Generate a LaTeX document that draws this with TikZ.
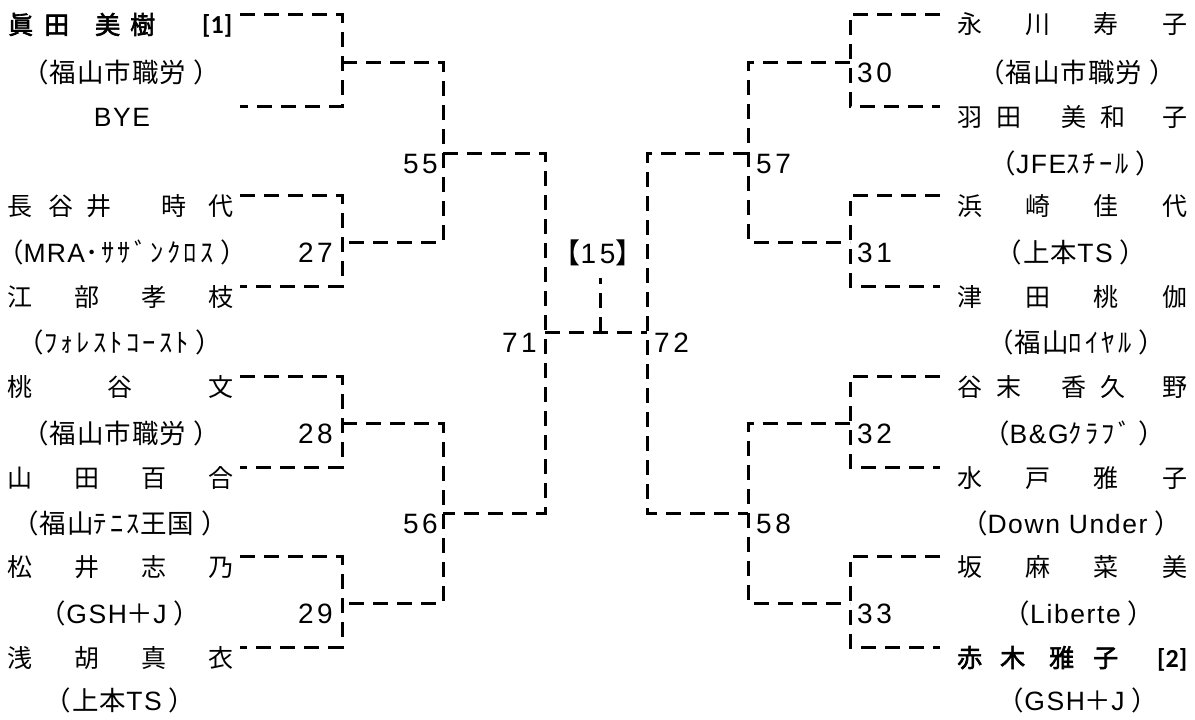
\documentclass[tikz,border=0pt]{standalone}
\usepackage{fontspec}
\setmainfont{Liberation Sans}[LetterSpace=6]
\newfontfamily\jp[AutoFakeBold=2.5]{Noto Sans CJK JP}
\newfontfamily\jpa{Noto Sans CJK JP}[LetterSpace=4]
\newfontfamily\jph{Noto Sans CJK JP}[LetterSpace=12]
\newfontfamily\brk{Carlito}
\newcommand\J[1]{{\jpa #1}}
\newcommand\HK[1]{{\jph #1}}
\newcommand\num[2]{#1\kern3.5pt#2}
\tikzset{
  br/.style={line width=3pt, dash pattern=on 15pt off 9pt},
  nmL/.style={inner sep=0pt, anchor=base west, font=\fontsize{25}{30}\selectfont\jp},
  aff/.style={inner sep=0pt, anchor=base, font=\fontsize{26.5}{30}\selectfont},
  lblL/.style={inner sep=0pt, anchor=base east, font=\fontsize{28}{30}\selectfont\addfontfeature{LetterSpace=0}},
  lblR/.style={inner sep=0pt, anchor=base west, font=\fontsize{28}{30}\selectfont\addfontfeature{LetterSpace=0}},
}
\begin{document}
\begin{tikzpicture}[x=1pt,y=-1pt]
\useasboundingbox (0,0) rectangle (1195,720);
% ---------- brackets: first round ----------
\foreach \t/\b in {14/106, 195/286, 376/467, 556/647} {
  \draw[br] (240,\t) -- (342,\t) -- (342,\b) -- (240,\b);
  \draw[br] (940,\t) -- (850,\t) -- (850,\b) -- (940,\b);
}
% ---------- second round ----------
\draw[br] (342,62) -- (443,62) -- (443,242) -- (342,242);
\draw[br] (342,423) -- (443,423) -- (443,603) -- (342,603);
\draw[br] (850,62) -- (748,62) -- (748,242) -- (850,242);
\draw[br] (850,423) -- (748,423) -- (748,603) -- (850,603);
% ---------- semifinals ----------
\draw[br] (443,153) -- (545,153) -- (545,513) -- (443,513);
\draw[br] (748,153) -- (647,153) -- (647,513) -- (748,513);
% ---------- final ----------
\draw[br] (545,332) -- (647,332);
\coordinate (fin) at (600,332);
\coordinate (finTop) at (600,278);
\draw[br] (fin) -- (finTop);

% ---------- left names ----------
\node[nmL] (l0) at (8,34) {\hbox to 224pt{\bfseries 眞\hspace{11pt}田\hspace{26pt}美\hspace{10pt}樹\hfill{\brk\fontsize{26}{30}\selectfont[1]}}};
\node[aff] (l1) at (121,82) {\J{（福山市職労 ）}};
\node[aff] (l2) at (122,126) {BYE};
\node[nmL] (l4) at (7,215) {\hbox to 226pt{長\hspace{16pt}谷\hspace{13pt}井\hfill 時\hspace{22pt}代}};
\node[aff] (l5) at (122,262) {\J{（}{\addfontfeature{LetterSpace=5}MRA}\HK{･ｻｻﾞﾝｸﾛｽ}\J{ ）}};
\node[nmL] (l6) at (7,306) {\hbox to 226pt{江\hfill 部\hfill 孝\hfill 枝}};
\node[aff] (l7) at (120,352) {\J{（}\HK{ﾌｫﾚｽﾄｺｰｽﾄ}\J{ ）}};
\node[nmL] (l8) at (7,396) {\hbox to 226pt{桃\hfill 谷\hfill 文}};
\node[aff] (l9) at (121,443) {\J{（福山市職労 ）}};
\node[nmL] (l10) at (7,487) {\hbox to 226pt{山\hfill 田\hfill 百\hfill 合}};
\node[aff] (l11) at (120,533) {\J{（福山}\HK{ﾃﾆｽ}\J{王国 ）}};
\node[nmL] (l12) at (7,576) {\hbox to 226pt{松\hfill 井\hfill 志\hfill 乃}};
\node[aff] (l13) at (120,623) {\J{（}GSH\J{＋}J\J{ ）}};
\node[nmL] (l14) at (7,667) {\hbox to 226pt{浅\hfill 胡\hfill 真\hfill 衣}};
\node[aff] (l15) at (120,710) {\J{（上本}TS\J{ ）}};

% ---------- right names ----------
\node[nmL] (r0) at (957,34) {\hbox to 230pt{永\hfill 川\hfill 寿\hfill 子}};
\node[aff] (r1) at (1077,82) {\J{（福山市職労 ）}};
\node[nmL] (r2) at (957,126) {\hbox to 230pt{羽\hspace{14pt}田\hspace{40pt}美\hspace{14pt}和\hfill 子}};
\node[aff] (r3) at (1076,173) {\J{（}JFE\HK{ｽﾁｰﾙ}\J{ ）}};
\node[nmL] (r4) at (957,215) {\hbox to 230pt{浜\hfill 崎\hfill 佳\hfill 代}};
\node[aff] (r5) at (1071,262) {\J{（上本}TS\J{ ）}};
\node[nmL] (r6) at (957,306) {\hbox to 230pt{津\hfill 田\hfill 桃\hfill 伽}};
\node[aff] (r7) at (1076,352) {\J{（福山}\HK{ﾛｲﾔﾙ}\J{ ）}};
\node[nmL] (r8) at (957,396) {\hbox to 230pt{谷\hspace{14pt}末\hspace{40pt}香\hspace{14pt}久\hfill 野}};
\node[aff] (r9) at (1074,443) {\J{（}B\&G\HK{ｸﾗﾌﾞ}\J{ ）}};
\node[nmL] (r10) at (957,487) {\hbox to 230pt{水\hfill 戸\hfill 雅\hfill 子}};
\node[aff] (r11) at (1071,533) {\J{（}Down Under\J{ ）}};
\node[nmL] (r12) at (957,576) {\hbox to 230pt{坂\hfill 麻\hfill 菜\hfill 美}};
\node[aff] (r13) at (1079,623) {\J{（}Liberte\J{ ）}};
\node[nmL] (r14) at (957,667) {\hbox to 230pt{\bfseries 赤\hspace{18pt}木\hspace{24pt}雅\hspace{19pt}子\hfill{\brk\fontsize{26}{30}\selectfont[2]}}};
\node[aff] (r15) at (1078,710) {\J{（}GSH\J{＋}J\J{ ）}};

% ---------- match numbers ----------
\node[lblL] (m27) at (333,262) {\num27};
\node[lblL] (m28) at (333,443) {\num28};
\node[lblL] (m29) at (333,623) {\num29};
\node[lblL] (m55) at (438,173) {\num55};
\node[lblL] (m56) at (438,533) {\num56};
\node[lblL] (m71) at (537,352) {\num71};
\node[lblR] (m30) at (857,82) {\num30};
\node[lblR] (m31) at (857,262) {\num31};
\node[lblR] (m32) at (857,443) {\num32};
\node[lblR] (m33) at (857,623) {\num33};
\node[lblR] (m57) at (756,173) {\num57};
\node[lblR] (m58) at (756,533) {\num58};
\node[lblR] (m72) at (654,352) {\num72};
\node[inner sep=0pt, anchor=base, font=\fontsize{28}{30}\selectfont\addfontfeature{LetterSpace=0}] (m15) at (598,263) {\J{【}\num15\J{】}};
\end{tikzpicture}
\end{document}
